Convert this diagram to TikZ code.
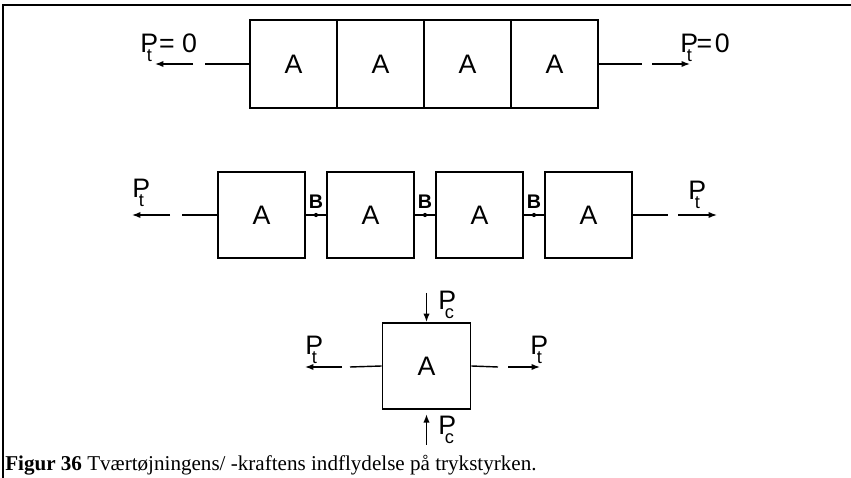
\documentclass[tikz,border=0pt]{standalone}
\usepackage{fontspec}
\setmainfont{Liberation Serif}
\setsansfont{Liberation Sans}
\usetikzlibrary{arrows.meta, positioning, calc}

\newcommand{\kraftT}{P\kern-0.42em\raisebox{-0.6ex}{\fontsize{13}{13}\selectfont t}\kern0.12em}
\newcommand{\kraftC}{P\kern-0.42em\raisebox{-0.6ex}{\fontsize{13}{13}\selectfont c}\kern0.12em}

\begin{document}
\begin{tikzpicture}[
  x=0.025cm, y=-0.025cm,
  blok/.style={
    rectangle, draw, line width=1.3pt,
    minimum width=2.175cm, minimum height=2.175cm,
    inner sep=0pt, font=\sffamily\fontsize{19}{19}\selectfont
  },
  streg/.style={line width=1pt},
  pil/.style={line width=1pt, -{Latex[length=6pt,width=4.5pt]}},
  etiket/.style={anchor=base west, inner sep=0pt, font=\sffamily\fontsize{19}{19}\selectfont},
  bmark/.style={inner sep=0pt, font=\sffamily\bfseries\fontsize{14}{14}\selectfont},
  prik/.style={circle, fill, inner sep=0pt, minimum size=3pt}
]
\useasboundingbox (0,0) rectangle (851,478);

% ramme
\draw[line width=1.4pt] (3,478) -- (3,5) -- (851,5);

% raekke 1: sammenhaengende blokke
\foreach \x [count=\i] in {293.5,380.5,467.5,554.5}
  \node[blok, minimum height=2.2cm] (r1\i) at (\x,64) {A};

\coordinate (r1vs) at (205,64);
\coordinate (r1va) at (193,64);
\coordinate (r1vb) at (155,64);
\coordinate (r1hs) at (642,64);
\coordinate (r1ha) at (652,64);
\coordinate (r1hb) at (690,64);
\draw[streg] (r11.west) -- (r1vs);
\draw[pil]   (r1va) -- (r1vb);
\draw[streg] (r14.east) -- (r1hs);
\draw[pil]   (r1ha) -- (r1hb);

\node[etiket] (p1v) at (140,53) {\kraftT\kern0.15em= 0};
\node[etiket] (p1h) at (680,53) {\kraftT\kern0.05em=\kern0.1em0};

% raekke 2: blokke med bindelag B
\foreach \x [count=\i] in {261.5,370.5,479.5,588.5}
  \node[blok, minimum height=2.15cm] (r2\i) at (\x,215) {A};

\foreach \i/\j in {1/2,2/3,3/4}{
  \draw[streg] (r2\i.east) -- (r2\j.west);
  \node[prik] (prik\i) at ($(r2\i.east)!0.5!(r2\j.west)$) {};
  \node[bmark, above=3pt of prik\i] (b\i) {B};
}

\coordinate (r2vs) at (182,215);
\coordinate (r2va) at (170,215);
\coordinate (r2vb) at (132,215);
\coordinate (r2hs) at (668,215);
\coordinate (r2ha) at (678,215);
\coordinate (r2hb) at (717,215);
\draw[streg] (r21.west) -- (r2vs);
\draw[pil]   (r2va) -- (r2vb);
\draw[streg] (r24.east) -- (r2hs);
\draw[pil]   (r2ha) -- (r2hb);

\node[etiket] (p2v) at (132,198) {\kraftT};
\node[etiket] (p2h) at (688,200) {\kraftT};

% raekke 3: enkelt blok med tvaerkraft
\node[blok, minimum width=2.2cm, minimum height=2.15cm] (r3) at (426.5,366) {A};

\coordinate (r3vs) at (350,367);
\coordinate (r3va) at (342,367);
\coordinate (r3vb) at (305,367);
\coordinate (r3hs) at (498,367);
\coordinate (r3ha) at (508,367);
\coordinate (r3hb) at (540,367);
\draw[streg] (r3.west) -- (r3vs);
\draw[pil]   (r3va) -- (r3vb);
\draw[streg] (r3.east) -- (r3hs);
\draw[pil]   (r3ha) -- (r3hb);

\coordinate (r3top) at (426.5,293);
\coordinate (r3bund) at (426.5,445);
\draw[pil] (r3top) -- (r3.north);
\draw[pil, shorten >=3pt] (r3bund) -- (r3.south);

\node[etiket] (p3v) at (305,355) {\kraftT};
\node[etiket] (p3h) at (530,355) {\kraftT};
\node[etiket] (pc1) at (438,310) {\kraftC};
\node[etiket] (pc2) at (438,435) {\kraftC};

% figurtekst
\node[anchor=base west, inner sep=0pt, font=\fontsize{15}{15}\selectfont] (tekst) at (5,471)
  {\textbf{Figur 36} Tværtøjningens/ -kraftens indflydelse på trykstyrken.};
\end{tikzpicture}
\end{document}
